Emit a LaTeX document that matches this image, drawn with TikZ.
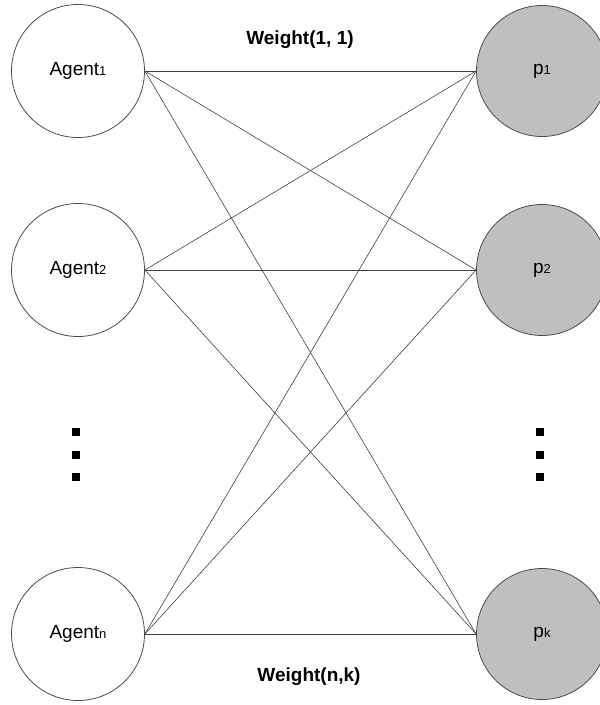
\documentclass[tikz,border=0pt]{standalone}
\usepackage{fontspec}
\setmainfont{Liberation Sans}
\begin{document}
\begin{tikzpicture}[x=1pt,y=-1pt,
  agent/.style={circle,draw=black!70,line width=0.8pt,minimum size=133pt,inner sep=0pt,fill=white,font=\fontsize{19}{21}\selectfont},
  res/.style={circle,draw=black!70,line width=0.8pt,minimum size=131pt,inner sep=0pt,fill=black!25,font=\fontsize{19}{21}\selectfont},
  link/.style={draw=black!75,line width=0.6pt},
  dot/.style={fill=black,minimum size=7.5pt,inner sep=0pt,draw=none,rectangle},
  wlabel/.style={font=\bfseries\fontsize{19}{21}\selectfont}]
\useasboundingbox (0,0) rectangle (600,705);
\newcommand{\sub}[1]{{\fontsize{13}{15}\selectfont #1}}
\node[agent] (a1) at (78,71) {Agent\sub{1}};
\node[agent] (a2) at (78,270) {Agent\sub{2}};
\node[agent] (an) at (78,634) {Agent\sub{n}};
\node[res] (p1) at (542,71) {p\sub{1}};
\node[res] (p2) at (542,270) {p\sub{2}};
\node[res] (pk) at (542,634) {p\sub{k}};
\foreach \a in {a1,a2,an}{
  \foreach \p in {p1,p2,pk}{
    \draw[link] (\a.east) -- (\p.west);
  }
}
\node[dot] (l1) at (76,432) {};
\node[dot] (l2) at (76,455) {};
\node[dot] (l3) at (76,477) {};
\node[dot] (r1) at (540,432) {};
\node[dot] (r2) at (540,455) {};
\node[dot] (r3) at (540,477) {};
\node[wlabel] (w1) at (300,40) {Weight(1, 1)};
\node[wlabel] (wn) at (309,677) {Weight(n,k)};
\end{tikzpicture}
\end{document}
